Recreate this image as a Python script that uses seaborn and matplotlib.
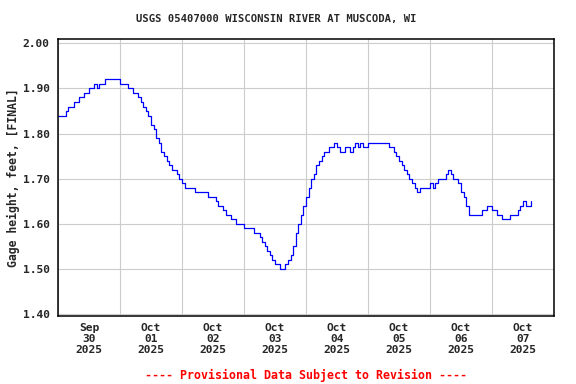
import pandas as pd
import numpy as np
import matplotlib
matplotlib.use("Agg")
import matplotlib.pyplot as plt
import matplotlib.dates as mdates
import seaborn as sns

# --- data: hourly gage height (ft), starting 2025-09-30 00:00 ---
start = "2025-09-30 00:00"
sep30 = [1.84, 1.84, 1.84, 1.85, 1.86, 1.86, 1.87, 1.87, 1.88, 1.88, 1.89, 1.89,
         1.90, 1.90, 1.91, 1.90, 1.91, 1.91, 1.92, 1.92, 1.92, 1.92, 1.92, 1.92]
oct01 = [1.91, 1.91, 1.91, 1.90, 1.90, 1.89, 1.89, 1.88, 1.87, 1.86, 1.85, 1.84,
         1.82, 1.81, 1.79, 1.78, 1.76, 1.75, 1.74, 1.73, 1.72, 1.72, 1.71, 1.70]
oct02 = [1.69, 1.68, 1.68, 1.68, 1.68, 1.67, 1.67, 1.67, 1.67, 1.67, 1.66, 1.66,
         1.66, 1.65, 1.64, 1.64, 1.63, 1.62, 1.62, 1.61, 1.61, 1.60, 1.60, 1.60]
oct03 = [1.59, 1.59, 1.59, 1.59, 1.58, 1.58, 1.57, 1.56, 1.55, 1.54, 1.53, 1.52,
         1.51, 1.51, 1.50, 1.50, 1.51, 1.52, 1.53, 1.55, 1.58, 1.60, 1.62, 1.64]
oct04 = [1.66, 1.68, 1.70, 1.71, 1.73, 1.74, 1.75, 1.76, 1.76, 1.77, 1.77, 1.78,
         1.77, 1.76, 1.76, 1.77, 1.77, 1.76, 1.77, 1.78, 1.77, 1.78, 1.77, 1.77]
oct05 = [1.78, 1.78, 1.78, 1.78, 1.78, 1.78, 1.78, 1.78, 1.77, 1.77, 1.76, 1.75,
         1.74, 1.73, 1.72, 1.71, 1.70, 1.69, 1.68, 1.67, 1.68, 1.68, 1.68, 1.68]
oct06 = [1.69, 1.68, 1.69, 1.70, 1.70, 1.70, 1.71, 1.72, 1.71, 1.70, 1.70, 1.69,
         1.67, 1.66, 1.64, 1.62, 1.62, 1.62, 1.62, 1.62, 1.63, 1.63, 1.64, 1.64]
oct07 = [1.63, 1.63, 1.62, 1.62, 1.61, 1.61, 1.61, 1.62, 1.62, 1.62, 1.63, 1.64,
         1.65, 1.64, 1.64, 1.65]

heights = sep30 + oct01 + oct02 + oct03 + oct04 + oct05 + oct06 + oct07
times = pd.date_range(start, periods=len(heights), freq="h")
df = pd.DataFrame({"time": times, "height": heights})

y_ticks = [1.40, 1.50, 1.60, 1.70, 1.80, 1.90, 2.00]

title = "USGS 05407000 WISCONSIN RIVER AT MUSCODA, WI"
ylabel = "Gage height, feet, [FINAL]"
footer = "---- Provisional Data Subject to Revision ----"

# --- plot ---
sns.set_style("white")
plt.rcParams["font.family"] = ["DejaVu Sans Mono"]
plt.rcParams["font.weight"] = "bold"

fig = plt.figure(figsize=(5.76, 3.84), dpi=100)
ax = fig.add_axes([58 / 576, 1 - 316 / 384, (554 - 58) / 576, (316 - 39.3) / 384])

sns.lineplot(data=df, x="time", y="height", ax=ax, color="#0000ff",
             linewidth=0.9, drawstyle="steps-post", estimator=None)

ax.set_xlim(pd.Timestamp("2025-09-30"), pd.Timestamp("2025-10-08"))
ax.set_ylim(1.3956, 2.009)

# gridlines at midnight, labels at noon
ax.xaxis.set_major_locator(mdates.DayLocator())
ax.xaxis.set_major_formatter(plt.NullFormatter())
ax.xaxis.set_minor_locator(mdates.HourLocator(byhour=12))
ax.xaxis.set_minor_formatter(mdates.DateFormatter("%b\n%d\n%Y"))
ax.set_yticks(y_ticks)
ax.set_yticklabels([f"{v:.2f}" for v in y_ticks])

ax.tick_params(axis="both", which="both", length=0)
ax.tick_params(axis="x", which="minor", pad=5, labelsize=8.1)
ax.tick_params(axis="y", pad=6, labelsize=8.1)
for lab in ax.get_xticklabels(minor=True):
    lab.set_linespacing(1.15)
    lab.set_fontweight("bold")
for lab in ax.get_yticklabels():
    lab.set_fontweight("bold")

ax.grid(True, which="major", color="#cccccc", linewidth=0.8)
ax.set_axisbelow(True)
for s in ax.spines.values():
    s.set_color("black")
    s.set_linewidth(1.1)

ax.set_xlabel("")
ax.set_ylabel(ylabel, fontsize=8.3, fontweight="bold", labelpad=2)

fig.text(276.5 / 576, 1 - 19 / 384, title, ha="center", va="center",
         fontsize=7.6, fontweight="bold")
fig.text(306 / 576, 1 - 375 / 384, footer, ha="center", va="center",
         fontsize=8.4, fontweight="bold", color="red")

fig.savefig("out.png", dpi=100)
